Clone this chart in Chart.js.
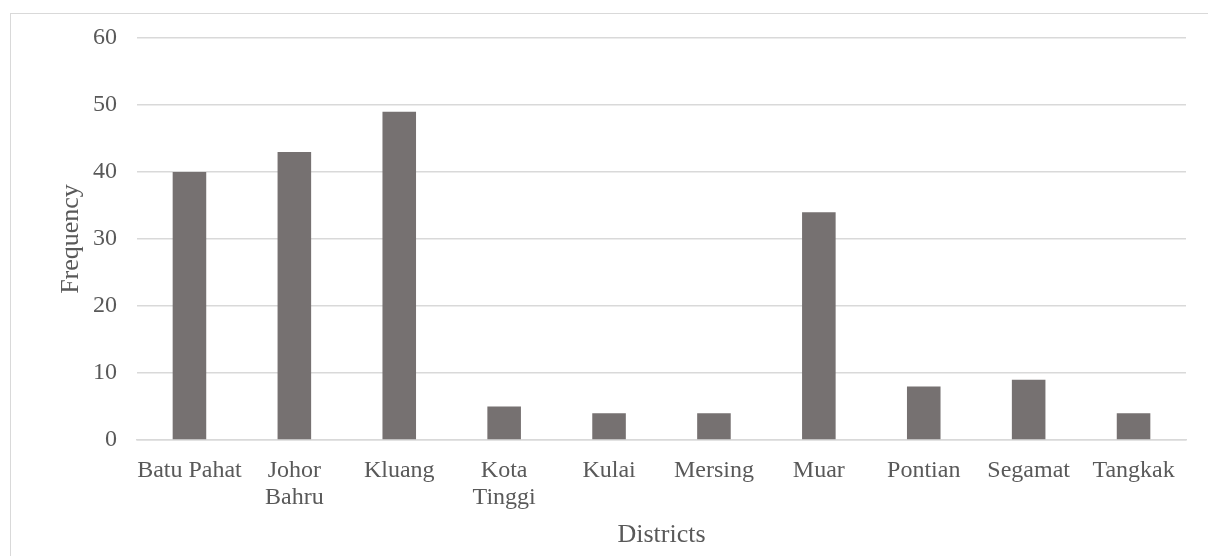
<!DOCTYPE html>
<html lang="en">
<head>
  <meta charset="UTF-8">
  <title>Frequency by District</title>
  <script src="https://cdn.jsdelivr.net/npm/chart.js"></script>
  <style>
    html, body {
      margin: 0;
      padding: 0;
      background: #fff;
      overflow: hidden;
      width: 1208px;
      height: 556px;
    }

    .frame {
      position: absolute;
      left: 10px;
      top: 13px;
      width: 1300px;
      height: 700px;
      border: 1.5px solid #d9d9d9;
    }

    #myChart {
      position: absolute;
      left: 0;
      top: 0;
    }
  </style>
</head>
<body>
  <div class="frame"></div>
  <canvas id="myChart" width="1208" height="556"></canvas>

  <script>
    const districts = [
      'Batu Pahat', ['Johor', 'Bahru'], 'Kluang', ['Kota', 'Tinggi'], 'Kulai',
      'Mersing', 'Muar', 'Pontian', 'Segamat', 'Tangkak'
    ];
    const frequency = [40, 43, 49, 5, 4, 4, 34, 8, 9, 4];
    const yTicks = [0, 10, 20, 30, 40, 50, 60];

    const serif = "'Liberation Serif', 'Times New Roman', serif";
    const textColor = '#595959';
    const gridColor = '#d9d9d9';

    const ctx = document.getElementById('myChart').getContext('2d');
    new Chart(ctx, {
      type: 'bar',
      data: {
        labels: districts,
        datasets: [{
          label: 'Frequency',
          data: frequency,
          backgroundColor: '#767171',
          borderWidth: 0,
          barPercentage: 0.32,
          categoryPercentage: 1
        }]
      },
      options: {
        responsive: false,
        animation: false,
        devicePixelRatio: 1,
        layout: { padding: { top: 38, right: 22, left: 0, bottom: 0 } },
        plugins: {
          legend: { display: false },
          tooltip: { enabled: false }
        },
        scales: {
          x: {
            grid: { display: false, drawTicks: false },
            border: { display: true, color: gridColor, width: 1.5 },
            ticks: {
              color: textColor,
              font: { family: serif, size: 24, lineHeight: 1.1 },
              padding: 18,
              maxRotation: 0,
              autoSkip: false
            },
            title: {
              display: true,
              text: 'Districts',
              color: textColor,
              font: { family: serif, size: 26 },
              padding: { top: 0, bottom: 5 }
            },
            afterFit(scale) { scale.height = 116; }
          },
          y: {
            min: 0,
            max: 60,
            afterBuildTicks(scale) { scale.ticks = yTicks.map(v => ({ value: v })); },
            grid: { color: gridColor, lineWidth: 1.5, drawTicks: false },
            border: { display: false },
            ticks: {
              color: textColor,
              font: { family: serif, size: 24 },
              padding: 20
            },
            title: {
              display: true,
              text: 'Frequency',
              color: textColor,
              font: { family: serif, size: 26 },
              padding: { top: 56, bottom: 0 }
            },
            afterFit(scale) { scale.width = 137; }
          }
        }
      }
    });
  </script>
</body>
</html>
